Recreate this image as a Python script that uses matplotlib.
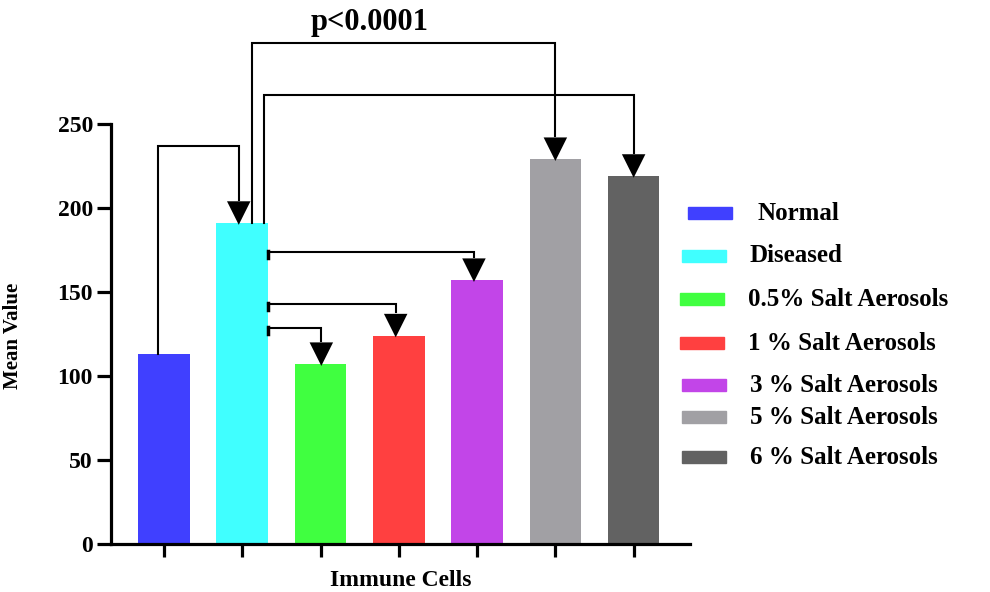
import matplotlib
matplotlib.use("Agg")
import matplotlib.pyplot as plt
from matplotlib.patches import Rectangle

# ---- data ----
categories = ["Normal", "Diseased", "0.5% Salt Aerosols", "1 % Salt Aerosols",
              "3 % Salt Aerosols", "5 % Salt Aerosols", "6 % Salt Aerosols"]
values = [113, 191, 107, 124, 157, 229, 219]
colors = ["#4040FF", "#40FFFF", "#40FF40", "#FF4040", "#C245E8", "#A1A0A4", "#626262"]
yticks = [0, 50, 100, 150, 200, 250]
p_label = "p<0.0001"

# comparisons: (from index, to index, bracket level)
comparisons = [(0, 1, 237), (1, 5, 298), (1, 6, 267), (1, 4, 174), (1, 3, 143), (1, 2, 128.5)]

FONT = ["Liberation Serif", "DejaVu Serif"]
plt.rcParams["font.family"] = FONT
plt.rcParams["font.weight"] = "bold"

fig = plt.figure(figsize=(9.9, 5.92), dpi=100)
ax = fig.add_axes([111/990, 1-544/592, 579/990, 420/592])

x = list(range(len(categories)))
bw = 0.66
ax.bar(x, values, width=bw, color=colors, label=categories, zorder=2)

ax.set_xlim(-0.677, 6.72)
ax.set_ylim(0, 250)
ax.set_yticks(yticks)
ax.set_yticklabels([str(t) for t in yticks], fontsize=17, fontweight="bold")
ax.set_xticks(x)
ax.set_xticklabels([])
for s in ["top", "right"]:
    ax.spines[s].set_visible(False)
for s in ["left", "bottom"]:
    ax.spines[s].set_linewidth(2.3)
ax.tick_params(axis="y", length=10, width=2.3, pad=3)
ax.tick_params(axis="x", length=9, width=2.3)
ax.set_xlabel("Immune Cells", fontsize=17, fontweight="bold", labelpad=6)
ax.set_ylabel("Mean Value", fontsize=15, fontweight="bold")
ax.yaxis.set_label_coords(-0.152, 0.495)

# ---- comparison brackets ----
lw = 1.5
hw = 0.15     # arrow head half-width (data x)
hh = 14.0     # arrow head height (data y)

def arrow_head(xt, yt):
    ax.fill([xt - hw, xt + hw, xt], [yt + hh, yt + hh, yt], color="black",
            clip_on=False, zorder=5, lw=0)

start_offsets = {5: 0.13, 6: 0.28}
target_offsets = {1: -0.045, 2: 0.01, 3: -0.04, 4: -0.04, 5: 0.0, 6: 0.0}
for (i, j, lev) in comparisons:
    xe = j + target_offsets[j]
    ye = values[j]
    if i == 0:
        xs = i - 0.08
        ax.plot([xs, xs, xe, xe], [values[i], lev, lev, ye + hh], color="black",
                lw=lw, clip_on=False, zorder=4, solid_joinstyle="miter")
    elif j in (5, 6):
        xs = i + start_offsets[j]
        ax.plot([xs, xs, xe, xe], [values[i], lev, lev, ye + hh], color="black",
                lw=lw, clip_on=False, zorder=4, solid_joinstyle="miter")
    else:
        xs = i + bw / 2
        ax.plot([xs, xe, xe], [lev, lev, ye + hh], color="black",
                lw=lw, clip_on=False, zorder=4, solid_joinstyle="miter")
        ax.plot([xs, xs], [lev - 3.5, lev + 0.5], color="black", lw=2.5,
                clip_on=False, zorder=4)
    arrow_head(xe, ye - 1)

ax.text(2.63, 302, p_label, fontsize=22, fontweight="bold", ha="center",
        va="bottom", clip_on=False)

# ---- legend (manual) ----
leg_y = [213, 256, 299, 343, 385, 417, 457]
patch_x = [688, 682, 680, 680, 682, 682, 682]
text_x = [757, 750, 748, 748, 750, 750, 750]
for k, lab in enumerate(categories):
    yc = leg_y[k]
    fig.patches.append(Rectangle((patch_x[k]/990, 1 - (yc + 6)/592), 44/990, 12/592,
                                 transform=fig.transFigure, color=colors[k]))
    fig.text(text_x[k]/990, 1 - yc/592, lab, fontsize=18, fontweight="bold",
             ha="left", va="center")

fig.savefig("out.png", dpi=100)
